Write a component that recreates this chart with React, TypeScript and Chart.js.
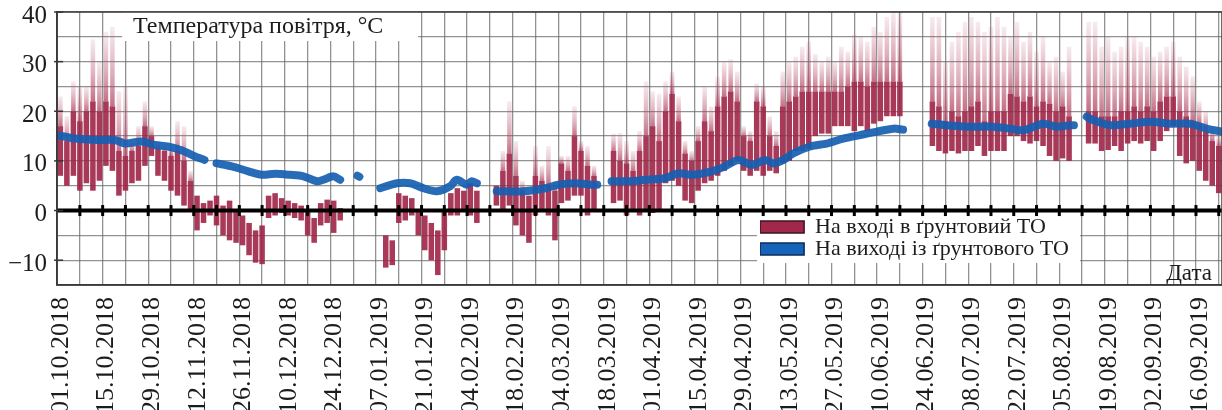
import React, { useEffect, useRef } from 'react';
import { Chart, registerables } from 'chart.js';

Chart.register(...registerables);

// ---------- data ----------
const dateLabels = [
  '01.10.2018', '15.10.2018', '29.10.2018', '12.11.2018', '26.11.2018', '10.12.2018',
  '24.12.2018', '07.01.2019', '21.01.2019', '04.02.2019', '18.02.2019', '04.03.2019',
  '18.03.2019', '01.04.2019', '15.04.2019', '29.04.2019', '13.05.2019', '27.05.2019',
  '10.06.2019', '24.06.2019', '08.07.2019', '22.07.2019', '05.08.2019', '19.08.2019',
  '02.09.2019', '16.09.2019',
];
const seriesNames = ['На вході в ґрунтовий ТО', 'На виході із ґрунтового ТО'];
const chartTitle = 'Температура повітря, °C';
const axisTitle = 'Дата';
const yTickValues = [-10, 0, 10, 20, 30, 40];

// inlet air: one entry per 2-day bin starting 01.10.2018 (dense band low/high, sparse peak)
const binDays = 2;
const inletLow: (number | null)[] = [
  7, 5, 7, 4, 5.5, 4, 6, 9, 8, 3,
  4, 5.5, 6, 9, 11, 7, 6, 4, 3, 1,
  0, -4, -2.5, -1, -3, -5, -6, -6.5, -7, -9,
  -10.5, -10.8, -1.5, -1, -0.5, -1, -1.5, -2, -5, -6.5,
  -3, -2.5, -4.5, -2, null, null, null, null, null, null,
  -11.5, -11, -2.5, -2, -1, -5, -8, -10, -13, -8,
  -1, -1, 0, -1, -2.5, null, null, 1, 0, 1,
  -3, -5, -6.5, -1, 0, -1, -6, 1.5, 2, 3,
  3, -1, 0, null, null, 1.5, 2, -1, 0, -1,
  0, -0.5, 0, 5.5, 6, 5, 2, 1.5, 4, 5.5,
  6, 7, 8, 9, 10, 8, 7, 8, 7, 8,
  7.5, 9.5, 10, 12, 12, 12.5, 15, 15.5, 15.5, 17,
  17, 17, 16, 17, 16, 17.5, 18, 19, 19, 19,
  null, null, null, null, 13, 12, 11.5, 12, 11.5, 12,
  12, 13, 11, 12, 12, 12, 15, 15, 14, 13.5,
  14, 13, 11, 10, 10.5, 10, null, null, 13.5, 13.5,
  12, 12.2, 13, 12, 13.5, 14, 13.5, 14, 12, 14,
  16, 17, 11, 9.5, 10, 8, 6, 5, 3.5,
];
const inletHigh: (number | null)[] = [
  17, 14, 20, 18, 20, 22, 20, 22, 21, 12,
  11, 12, 13, 17, 15, 12.5, 12, 11, 12, 10,
  6, 3, 1.5, 2, 3, 1, 2, 0, -1, -2.5,
  -4, -3, 3, 3.5, 2.5, 2, 1.5, 1, 0, -1.5,
  1.5, 2.2, 2, 0.5, null, null, null, null, null, null,
  -5, -6, 3.5, 3, 2.5, 0, -1, -2.5, -4, 0,
  3.5, 4.5, 4, 5.5, 4, null, null, 5, 8, 11.5,
  7, 4, 3, 7, 6, 5, 4, 9.5, 8, 15,
  12, 9, 7, null, null, 12, 10, 9.5, 8, 12,
  15, 17, 14, 20, 23.5, 18, 11.5, 10, 14, 18,
  16, 21, 23, 24, 22, 15, 14, 22, 21, 15,
  13, 21, 22, 23, 24, 24, 24, 24, 24, 24,
  24, 25, 26, 26, 25, 26, 26, 26, 26, 26,
  null, null, null, null, 22, 21, 18, 20, 19, 20,
  21, 22, 18, 20, 20, 20, 23.5, 23, 22, 23,
  21, 22, 21.5, 20, 21, 19, null, null, 20, 20,
  19, 19, 19, 20, 20, 21, 20, 21, 20, 22,
  23, 23, 20, 19, 18, 17.5, 16, 14, 13,
];
const inletPeak: (number | null)[] = [
  23, 19, 26, 25, 25, 34.5, 30, 36, 37, 24,
  25, 14, 17, 22, 17, 14, 13, 13, 18, 17,
  8, null, null, null, null, null, null, null, null, null,
  null, null, null, null, null, null, null, null, null, null,
  null, null, null, null, null, null, null, null, null, null,
  null, null, null, null, null, null, null, null, null, null,
  null, null, null, null, null, null, null, null, 12, 22,
  14, 6, null, 13, 9, 13, 6, 11, 11, 21,
  14, 13, 9, null, null, 15.5, 15.6, 14, 12, 16,
  26, 24, 23.5, 26, 28, 23, 14, 12, 17, 25,
  21, 27, 30, 30.5, 28, 17, 16, 25.6, 25, 19,
  16, 28, 30, 31, 33, 34, 31.5, 30, 31, 30,
  33, 32, 35.5, 35, 34, 37, 36, 39, 40, 40,
  null, null, null, null, 39, 39, 30, 34, 36, 38,
  39, 38, 36, 37, 39, 37, 35, 38, 34, 36,
  32, 35, 30, 31, 28, 33, null, null, 38, 38,
  33, 35, 32, 33, 35, 35, 34, 33, 31, 32,
  33, 34, 31, 29, 27, 22, 20, 17, 15,
];

// outlet air: day since 01.10.2018 and temperature (null = no data)
const outletDays = [
  0, 5.5, 12.7, 17.8, 21, 26, 30, 34, 38, 42.4, 45.3, 47, 49, 53.7, 58.8, 62.9, 67,
  71.6, 75.7, 79.8, 81.8, 84.9, 87, 89, 92.3, 92.9, 96, 99.3, 104.4, 108.5, 112.6,
  116.7, 120.8, 122.8, 125.9, 127.4, 129, 132, 135.1, 143.3, 150, 154, 159.2, 164.3,
  166, 168, 170.4, 176.6, 180.7, 186.8, 190.9, 195, 201.2, 205.3, 209.4, 213.5, 217.6,
  220.1, 223.2, 226.2, 231.4, 236.5, 241.6, 246.7, 251.9, 257, 260, 264, 268.8, 273.4,
  279.5, 287.7, 292.8, 297, 303.1, 307.2, 311.3, 312.5, 314.5, 316.4, 318.5, 323.6,
  329.7, 335.9, 342, 348.2, 353.3, 358,
];
const outletTemps: (number | null)[] = [
  15.2, 14.5, 14.2, 14.2, 13.5, 13.9, 13.2, 12.9, 12.2, 10.9, 10.2, null, 9.5, 8.9, 7.9, 7.2, 7.4,
  7.2, 6.9, 5.9, 6.2, 6.9, 6.2, null, 7.0, 6.8, null, 4.5, 5.5, 5.5, 4.5,
  3.9, 4.9, 6.2, 5.2, 5.9, 5.5, null, 3.9, 3.9, 4.5, 5.2, 5.5, 5.2,
  5.2, null, 5.9, 5.9, 6.2, 6.5, 7.5, 7.2, 7.9, 8.9, 10.2, 9.2, 10.2,
  9.5, 10.2, 11.5, 12.9, 13.5, 14.5, 15.2, 15.9, 16.5, 16.3, null, 17.5, 17.2,
  16.9, 16.9, 16.5, 16.2, 17.5, 16.9, 17.2, 17.2, null, 18.9, 18.2, 17.2,
  17.5, 17.9, 17.5, 17.5, 16.5, 15.9,
];

// ---------- styles ----------
const FONT = '"Liberation Serif", "Times New Roman", serif';
const TEXT = '#1c1c1c';
const GRID = 'rgba(100,100,100,0.7)';
const INLET_CORE = 'rgba(158,36,70,0.9)';
const INLET_SPARSE = 'rgba(185,85,115,0.35)';
const OUTLET = 'rgba(22,96,178,0.92)';

const decorPlugin = {
  id: 'decor',
  afterLayout(chart: any) {
    const lg = chart.legend;
    const ca = chart.chartArea;
    if (lg) {
      lg.left = ca.left + 703;
      lg.top = ca.top + 204;
      lg.width = 340;
      lg.height = 54;
      lg.right = lg.left + lg.width;
      lg.bottom = lg.top + lg.height;
    }
  },
  beforeDatasetsDraw(chart: any) {
    const { ctx, chartArea: ca } = chart;
    ctx.save();
    ctx.fillStyle = '#ffffff';
    ctx.fillRect(ca.left + 65, ca.top, 296, 29);
    ctx.fillRect(ca.left + 700, ca.top + 202, 323, 49);
    ctx.fillStyle = TEXT;
    ctx.font = `24px ${FONT}`;
    ctx.textBaseline = 'middle';
    ctx.textAlign = 'left';
    ctx.fillText(chartTitle, ca.left + 76, ca.top + 15);
    ctx.font = `23px ${FONT}`;
    ctx.textAlign = 'right';
    ctx.fillText(axisTitle, ca.right - 10, ca.bottom - 11);
    ctx.restore();
    if (chart.legend) chart.legend.draw();
  },
  afterDatasetsDraw(chart: any) {
    const { ctx, chartArea: ca, scales } = chart;
    const xs = scales.x;
    const ys = scales.y;
    const y0 = ys.getPixelForValue(0);
    ctx.save();
    ctx.strokeStyle = '#000';
    ctx.lineWidth = 4;
    ctx.beginPath();
    ctx.moveTo(ca.left, y0);
    ctx.lineTo(ca.right, y0);
    ctx.stroke();
    ctx.fillStyle = '#000';
    xs.ticks.forEach((t: any) => {
      const px = xs.getPixelForValue(t.value);
      if (px > ca.left + 3 && px < ca.right - 1) ctx.fillRect(px - 1.5, y0 - 5.5, 3, 11);
    });
    ctx.strokeStyle = '#333';
    ctx.lineWidth = 1.5;
    yTickValues.forEach((v) => {
      const py = ys.getPixelForValue(v);
      ctx.beginPath();
      ctx.moveTo(ca.left - 3, py);
      ctx.lineTo(ca.left + 6, py);
      ctx.stroke();
    });
    ctx.strokeStyle = '#3a3a3a';
    ctx.lineWidth = 1.5;
    ctx.strokeRect(ca.left, ca.top, ca.right - ca.left, ca.bottom - ca.top);
    ctx.restore();
  },
};

export default function App() {
  const canvasRef = useRef<HTMLCanvasElement | null>(null);

  useEffect(() => {
    const canvas = canvasRef.current;
    if (!canvas) return;

    const coreData: any[] = [];
    const sparseData: any[] = [];
    inletLow.forEach((lo, i) => {
      const hi = inletHigh[i];
      if (lo === null || hi === null) return;
      const x = i * binDays + binDays / 2;
      coreData.push({ x, y: [lo, hi] });
      const pk = inletPeak[i];
      if (pk !== null && pk > hi) sparseData.push({ x, y: [hi, pk] });
    });
    const outletData = outletDays.map((d, i) => ({ x: d, y: outletTemps[i] }));

    const sparseFill = (c: any) => {
      const chart = c.chart;
      const raw = c.raw;
      const ys = chart.scales && chart.scales.y;
      if (!raw || !ys || !Array.isArray(raw.y)) return INLET_SPARSE;
      const top = ys.getPixelForValue(raw.y[1]);
      const bot = ys.getPixelForValue(raw.y[0]);
      if (!isFinite(top) || !isFinite(bot) || Math.abs(bot - top) < 1) return INLET_SPARSE;
      const g = chart.ctx.createLinearGradient(0, top, 0, bot);
      g.addColorStop(0, 'rgba(190,90,120,0.12)');
      g.addColorStop(0.6, 'rgba(180,70,100,0.45)');
      g.addColorStop(1, 'rgba(170,50,85,0.7)');
      return g;
    };

    const chart = new Chart(canvas, {
      type: 'bar',
      data: {
        datasets: [
          {
            type: 'bar',
            label: seriesNames[0],
            data: coreData,
            backgroundColor: INLET_CORE,
            borderWidth: 0,
            grouped: false,
            barPercentage: 0.85,
            categoryPercentage: 1,
            order: 2,
          } as any,
          {
            type: 'line',
            label: seriesNames[1],
            data: outletData,
            borderColor: OUTLET,
            backgroundColor: OUTLET,
            borderWidth: 8,
            pointRadius: 0,
            tension: 0.3,
            spanGaps: false,
            borderCapStyle: 'round',
            borderJoinStyle: 'round',
            order: 1,
          } as any,
          {
            type: 'bar',
            label: 'sparse',
            data: sparseData,
            backgroundColor: sparseFill,
            borderWidth: 0,
            grouped: false,
            barPercentage: 0.7,
            categoryPercentage: 1,
            order: 3,
          } as any,
        ],
      },
      options: {
        responsive: true,
        maintainAspectRatio: false,
        animation: false,
        events: [],
        layout: { padding: { top: 12, left: -2, right: 0, bottom: 0 } },
        plugins: {
          title: { display: false },
          tooltip: { enabled: false },
          legend: {
            display: true,
            position: 'chartArea' as any,
            align: 'start',
            labels: {
              font: { family: FONT, size: 22 },
              color: TEXT,
              boxWidth: 44,
              boxHeight: 12,
              padding: 0,
              generateLabels: () => [
                { text: seriesNames[0], fillStyle: 'rgb(160,40,74)', strokeStyle: '#3b1522', lineWidth: 1.5, hidden: false, datasetIndex: 0, fontColor: TEXT } as any,
                { text: seriesNames[1], fillStyle: 'rgb(22,100,185)', strokeStyle: '#0b2c5c', lineWidth: 1.5, hidden: false, datasetIndex: 1, fontColor: TEXT } as any,
              ],
            },
          },
        },
        scales: {
          x: {
            type: 'linear',
            min: 0,
            max: 358,
            offset: false,
            grid: { offset: false, color: GRID, lineWidth: 1.3, drawTicks: false },
            border: { display: true, color: '#3a3a3a', width: 1.5 },
            ticks: {
              autoSkip: false,
              minRotation: 90,
              maxRotation: 90,
              padding: 12,
              labelOffset: 4,
              color: TEXT,
              font: { family: FONT, size: 26 },
              callback: (value: any) => {
                const v = Number(value);
                return v % 14 === 0 ? (dateLabels[v / 14] ?? '') : '';
              },
            },
            afterBuildTicks: (scale: any) => {
              const t: any[] = [];
              for (let v = 0; v <= 357; v += 7) t.push({ value: v });
              scale.ticks = t;
            },
            afterFit: (scale: any) => {
              scale.height = 125;
              scale.paddingLeft = 0;
              scale.paddingRight = 0;
            },
          } as any,
          y: {
            type: 'linear',
            min: -15,
            max: 40,
            grid: { color: GRID, lineWidth: 1.3, drawTicks: false },
            border: { display: true, color: '#3a3a3a', width: 1.5 },
            ticks: {
              stepSize: 5,
              autoSkip: false,
              padding: 10,
              labelOffset: 4,
              color: TEXT,
              font: { family: FONT, size: 25 },
              callback: (value: any) => {
                const v = Number(value);
                if (!yTickValues.includes(v)) return '';
                return v < 0 ? '\u2212' + String(-v) : String(v);
              },
            },
            afterFit: (scale: any) => {
              scale.paddingTop = 0;
              scale.paddingBottom = 0;
            },
          } as any,
        },
      },
      plugins: [decorPlugin],
    });

    return () => chart.destroy();
  }, []);

  return (
    <div style={{ position: 'absolute', left: 0, top: 0, width: 1222, height: 410 }}>
      <canvas ref={canvasRef} />
    </div>
  );
}
